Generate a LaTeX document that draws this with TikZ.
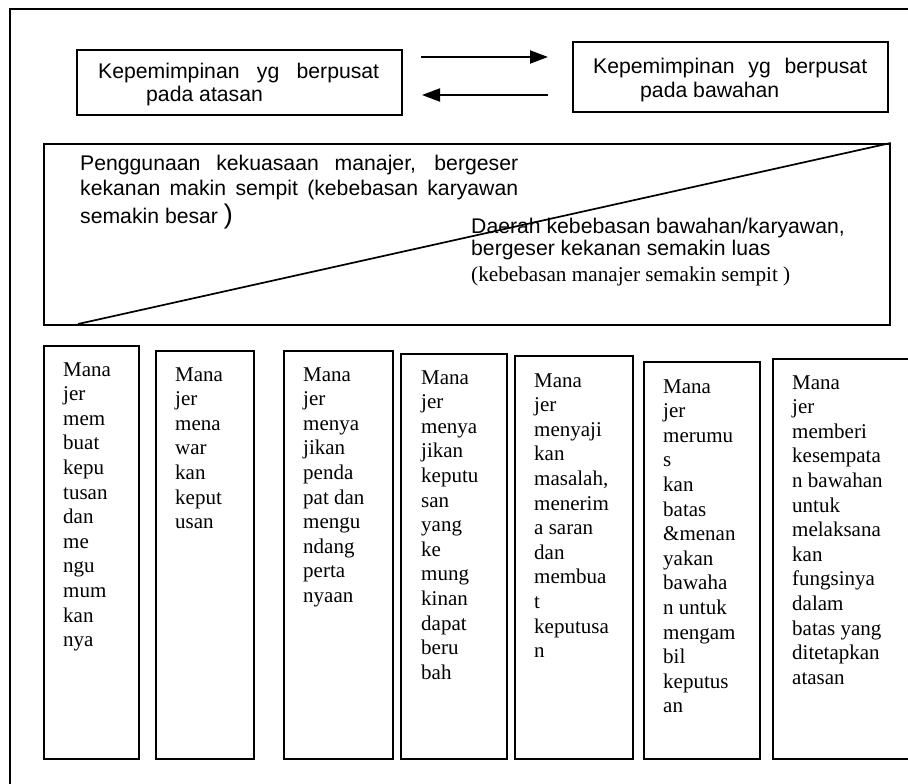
\documentclass[tikz,border=0pt]{standalone}
\usepackage{fontspec}
\setmainfont{Liberation Serif}
\setsansfont{Liberation Sans}
\usetikzlibrary{arrows.meta}
\begin{document}
\begin{tikzpicture}[x=1pt,y=-1pt,
  frame/.style={line width=2pt},
  boxed/.style={draw,line width=1.7pt,rectangle,inner sep=0pt,anchor=north west},
  sanstext/.style={inner sep=0pt,anchor=base west,font=\sffamily\fontsize{21.2}{22}\selectfont},
  coltext/.style={inner sep=0pt,anchor=base west,font=\rmfamily\fontsize{21}{24.6}\selectfont},
  flow/.style={line width=2pt,-{Triangle[length=18pt,width=13pt]}}]
\useasboundingbox (0,0) rectangle (908,784);
\clip (0,0) rectangle (908,784);

% outer frame (top and left sides)
\coordinate (ftl) at (9.5,9);
\coordinate (ftr) at (920,9);
\coordinate (fbl) at (9.5,800);
\draw[frame] (ftr) -- (ftl) -- (fbl);

% leadership boxes
\node[boxed,minimum width=325pt,minimum height=65pt] (b1) at (76,49) {};
\node[boxed,minimum width=315pt,minimum height=70pt] (b2) at (572,41) {};
\node[sanstext] (b1t1) at (98,78) {\makebox[281pt][s]{Kepemimpinan yg berpusat}};
\node[sanstext] (b1t2) at (146,101) {pada atasan};
\node[sanstext] (b2t1) at (593,74) {\makebox[274pt][s]{Kepemimpinan yg berpusat}};
\node[sanstext] (b2t2) at (640,97) {pada bawahan};

% arrows between the two boxes
\coordinate (r1) at (421,57);
\coordinate (r2) at (548,57);
\coordinate (l1) at (548,95);
\coordinate (l2) at (422,95);
\draw[flow] (r1) -- (r2);
\draw[flow] (l1) -- (l2);

% authority region with diagonal split
\node[boxed,minimum width=846pt,minimum height=181pt] (area) at (43,143) {};
\coordinate (diagstart) at (78,324);
\draw[line width=1.7pt] (diagstart) -- (area.north east);

\node[inner sep=0pt,anchor=base west,font=\sffamily\fontsize{21.2}{25}\selectfont] (mgr) at (80,170)
 {\parbox[t]{438pt}{%
  \makebox[438pt][s]{Penggunaan kekuasaan manajer, bergeser}\\
  \makebox[438pt][s]{kekanan makin sempit (kebebasan karyawan}\\[3pt]
  semakin besar {\fontsize{27}{27}\selectfont )}}};
\node[inner sep=0pt,anchor=base west,font=\sffamily\fontsize{21.2}{22}\selectfont] (emp) at (471,233)
 {\parbox[t]{420pt}{%
  Daerah kebebasan bawahan/karyawan,\\
  bergeser kekanan semakin luas\\[4pt]
  {\rmfamily (kebebasan manajer semakin sempit )}}};

% behaviour columns
\node[boxed,minimum width=95pt,minimum height=413pt] (c1) at (43,345) {};
\node[boxed,minimum width=98pt,minimum height=408pt] (c2) at (155,350) {};
\node[boxed,minimum width=109pt,minimum height=408pt] (c3) at (283,350) {};
\node[boxed,minimum width=106pt,minimum height=405pt] (c4) at (400,353) {};
\node[boxed,minimum width=118pt,minimum height=403pt] (c5) at (514,355) {};
\node[boxed,minimum width=116pt,minimum height=397pt] (c6) at (643,361) {};
\node[boxed,minimum width=160pt,minimum height=400pt] (c7) at (772,358) {};

\node[coltext] (t1) at (63,376) {\parbox[t]{80pt}{Mana\\jer\\mem\\buat\\kepu\\tusan\\dan\\me\\ngu\\mum\\kan\\nya}};
\node[coltext] (t2) at (175,381) {\parbox[t]{80pt}{Mana\\jer\\mena\\war\\kan\\keput\\usan}};
\node[coltext] (t3) at (303,381) {\parbox[t]{90pt}{Mana\\jer\\menya\\jikan\\penda\\pat dan\\mengu\\ndang\\perta\\nyaan}};
\node[coltext] (t4) at (421,384) {\parbox[t]{85pt}{Mana\\jer\\menya\\jikan\\keputu\\san\\yang\\ke\\mung\\kinan\\dapat\\beru\\bah}};
\node[coltext] (t5) at (534,387) {\parbox[t]{95pt}{Mana\\jer\\menyaji\\kan\\masalah,\\menerim\\a saran\\dan\\membua\\t\\keputusa\\n}};
\node[coltext] (t6) at (663,393) {\parbox[t]{95pt}{Mana\\jer\\merumu\\s\\kan\\batas\\\&menan\\yakan\\bawaha\\n untuk\\mengam\\bil\\keputus\\an}};
\node[coltext] (t7) at (792,389) {\parbox[t]{110pt}{Mana\\jer\\memberi\\kesempata\\n bawahan\\untuk\\melaksana\\kan\\fungsinya\\dalam\\batas yang\\ditetapkan\\atasan}};
\end{tikzpicture}
\end{document}
